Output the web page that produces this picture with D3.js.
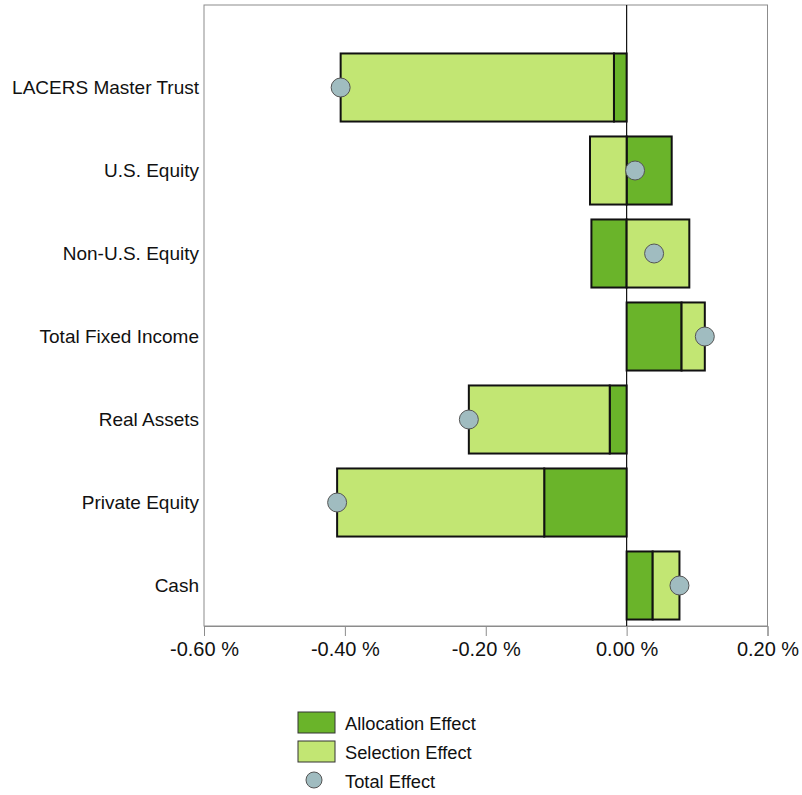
<!DOCTYPE html>
<html lang="en">
  <head>
    <meta charset="utf-8" />
    <title>Attribution Effects</title>
    <script src="https://d3js.org/d3.v7.js"></script>
    <style>
      body { margin: 0; background: #fff; }
      text { font-family: "Liberation Sans", Arial, sans-serif; fill: #111; }
    </style>
  </head>
  <body>
    <div id="graph"></div>
    <script>

    // data (in %)
    var categories = ["LACERS Master Trust", "U.S. Equity", "Non-U.S. Equity", "Total Fixed Income", "Real Assets", "Private Equity", "Cash"];
    var allocation = [-0.018, 0.064, -0.050, 0.078, -0.024, -0.117, 0.037];
    var selection = [-0.388, -0.052, 0.089, 0.033, -0.200, -0.294, 0.038];
    var total = [-0.406, 0.012, 0.039, 0.111, -0.224, -0.411, 0.075];
    var xTicks = [-0.6, -0.4, -0.2, 0, 0.2];

    var seriesNames = ["Allocation Effect", "Selection Effect"];
    var colors = { "Allocation Effect": "#6ab42a", "Selection Effect": "#c2e673" };
    var dotColor = "#a0bcc0";

    var w = 802, h = 795;
    var plot = { left: 204, right: 767.5, top: 5, bottom: 626 };

    var svg = d3.select("#graph")
      .append("svg")
        .attr("width", w)
        .attr("height", h);

    // scales
    var x = d3.scaleLinear()
      .domain([-0.6, 0.2])
      .range([plot.left, plot.right]);

    var y = d3.scaleBand()
      .domain(categories)
      .range([46, 627])
      .paddingInner(0.18)
      .paddingOuter(0.09);

    // build rows for the stack
    var rows = categories.map(function (c, i) {
      return { cat: c, "Allocation Effect": allocation[i], "Selection Effect": selection[i], total: total[i] };
    });

    var stacked = d3.stack()
      .keys(seriesNames)
      .offset(d3.stackOffsetDiverging)(rows);

    // frame
    svg.append("rect")
      .attr("x", plot.left)
      .attr("y", plot.top)
      .attr("width", plot.right - plot.left)
      .attr("height", plot.bottom - plot.top)
      .attr("fill", "none")
      .attr("stroke", "#8c8c8c")
      .attr("stroke-width", 1);

    // x axis
    var xAxis = svg.append("g")
      .attr("transform", `translate(0,${plot.bottom})`)
      .call(d3.axisBottom(x)
        .tickValues(xTicks)
        .tickSize(10)
        .tickPadding(6)
        .tickFormat(d => d3.format(".2f")(d).replace("\u2212", "-") + " %"));

    xAxis.select(".domain").attr("stroke", "#8c8c8c");
    xAxis.selectAll(".tick line").attr("stroke", "#8c8c8c");
    xAxis.selectAll(".tick text")
      .attr("font-size", "20px")
      .attr("fill", "#111")
      .style("font-family", '"Liberation Sans", Arial, sans-serif');

    // category labels
    svg.append("g")
      .selectAll("text")
      .data(categories)
      .join("text")
        .attr("x", plot.left - 5)
        .attr("y", d => y(d) + y.bandwidth() / 2)
        .attr("dy", "0.36em")
        .attr("text-anchor", "end")
        .attr("font-size", "19px")
        .text(d => d);

    // zero line
    svg.append("line")
      .attr("x1", x(0))
      .attr("x2", x(0))
      .attr("y1", plot.top)
      .attr("y2", plot.bottom)
      .attr("stroke", "#111")
      .attr("stroke-width", 1.2);

    // bars
    svg.append("g")
      .selectAll("g")
      .data(stacked)
      .join("g")
        .attr("fill", d => colors[d.key])
      .selectAll("rect")
      .data(d => d)
      .join("rect")
        .attr("x", d => x(Math.min(d[0], d[1])))
        .attr("y", d => y(d.data.cat))
        .attr("width", d => Math.abs(x(d[1]) - x(d[0])))
        .attr("height", y.bandwidth())
        .attr("stroke", "#111")
        .attr("stroke-width", 2);

    // total effect dots
    svg.append("g")
      .selectAll("circle")
      .data(rows)
      .join("circle")
        .attr("cx", d => x(d.total))
        .attr("cy", d => y(d.cat) + y.bandwidth() / 2)
        .attr("r", 9.5)
        .attr("fill", dotColor)
        .attr("stroke", "#555")
        .attr("stroke-width", 1);

    // legend
    var legend = svg.append("g")
      .attr("transform", "translate(298,712)");

    seriesNames.forEach(function (name, i) {
      legend.append("rect")
        .attr("x", 0)
        .attr("y", i * 29)
        .attr("width", 37)
        .attr("height", 21)
        .attr("fill", colors[name])
        .attr("stroke", "#333")
        .attr("stroke-width", 1);
      legend.append("text")
        .attr("x", 47)
        .attr("y", i * 29 + 11)
        .attr("dy", "0.36em")
        .attr("font-size", "18.3px")
        .text(name);
    });

    legend.append("circle")
      .attr("cx", 16)
      .attr("cy", 2 * 29 + 10)
      .attr("r", 8)
      .attr("fill", dotColor)
      .attr("stroke", "#555")
      .attr("stroke-width", 1);

    legend.append("text")
      .attr("x", 47)
      .attr("y", 2 * 29 + 11)
      .attr("dy", "0.36em")
      .attr("font-size", "18.3px")
      .text("Total Effect");

    </script>
  </body>
</html>
